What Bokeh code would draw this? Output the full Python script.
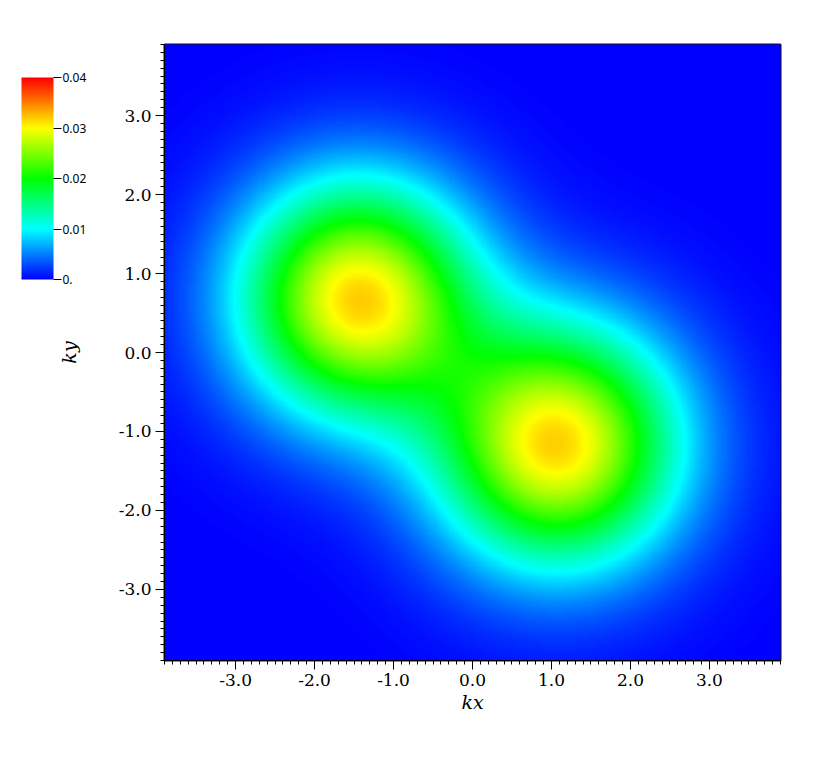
import colorsys
import numpy as np
from bokeh.plotting import figure
from bokeh.models import LinearColorMapper, ColorBar, FixedTicker, PrintfTickFormatter
from bokeh.embed import file_html
from bokeh.resources import INLINE

# ---- data ----
peak_kx = [-1.45, 1.08]
peak_ky = [0.68, -1.17]
peak_height = [0.0315, 0.0315]
peak_width = [1.04, 1.07]
k_min, k_max = -3.9, 3.9
major_ticks = [-3.0, -2.0, -1.0, 0.0, 1.0, 2.0, 3.0]
minor_ticks = [round(-3.9 + 0.1 * i, 1) for i in range(79)]
cbar_ticks = [0.0, 0.01, 0.02, 0.03, 0.04]
cbar_low, cbar_high = 0.0, 0.04

# ---- field built from the peak table ----
n = 400
kx = np.linspace(k_min, k_max, n)
ky = np.linspace(k_min, k_max, n)
KX, KY = np.meshgrid(kx, ky)
Z = np.zeros_like(KX)
for cx, cy, h, s in zip(peak_kx, peak_ky, peak_height, peak_width):
    Z += h * np.exp(-((KX - cx) ** 2 + (KY - cy) ** 2) / (2 * s * s))

# hue palette: blue -> cyan -> green -> yellow -> red
palette = []
for i in range(256):
    t = i / 255
    r, g, b = colorsys.hsv_to_rgb((240 * (1 - t)) / 360.0, 1.0, 1.0)
    palette.append("#%02x%02x%02x" % (int(round(r * 255)), int(round(g * 255)), int(round(b * 255))))

mapper = LinearColorMapper(palette=palette, low=cbar_low, high=cbar_high)

p = figure(width=800, height=752, x_range=(k_min, k_max), y_range=(k_min, k_max),
           output_backend="svg", toolbar_location=None,
           min_border_left=164, min_border_top=44, min_border_right=20, min_border_bottom=92)
p.image(image=[Z], x=k_min, y=k_min, dw=k_max - k_min, dh=k_max - k_min, color_mapper=mapper)

p.grid.visible = False
p.background_fill_color = "white"
p.outline_line_color = "#0a0a6e"
p.outline_line_width = 2

for ax in (p.xaxis[0], p.yaxis[0]):
    ax.ticker = FixedTicker(ticks=major_ticks, minor_ticks=minor_ticks)
    ax.formatter = PrintfTickFormatter(format="%.1f")
    ax.major_label_text_font = "DejaVu Serif"
    ax.major_label_text_font_size = "17px"
    ax.major_label_text_color = "black"
    ax.axis_label_text_font = "DejaVu Serif"
    ax.axis_label_text_font_style = "italic"
    ax.axis_label_text_font_size = "19px"
    ax.axis_label_text_color = "black"
    ax.major_tick_in = 0
    ax.major_tick_out = 9
    ax.minor_tick_in = 0
    ax.minor_tick_out = 4
    ax.axis_line_color = "black"
    ax.major_tick_line_color = "black"
    ax.minor_tick_line_color = "black"

p.xaxis.axis_label = "kx"
p.yaxis.axis_label = "ky"
p.xaxis.major_label_standoff = 4
p.xaxis.axis_label_standoff = 2
p.yaxis.major_label_standoff = 4
p.yaxis.axis_label_standoff = 36

cb = ColorBar(color_mapper=mapper, width=32, height=202,
              ticker=FixedTicker(ticks=cbar_ticks),
              formatter=PrintfTickFormatter(format="%.2f"),
              major_label_overrides={0: "0."},
              major_label_text_font="Noto Sans", major_label_text_font_size="12px",
              major_label_text_color="black",
              major_tick_in=0, major_tick_out=8, major_tick_line_color="black",
              label_standoff=1, bar_line_color=None, border_line_color=None,
              background_fill_color=None, padding=0, margin=0,
              location=(-143, 381))
p.add_layout(cb, "center")

open("out.html", "w").write(file_html(p, INLINE))
